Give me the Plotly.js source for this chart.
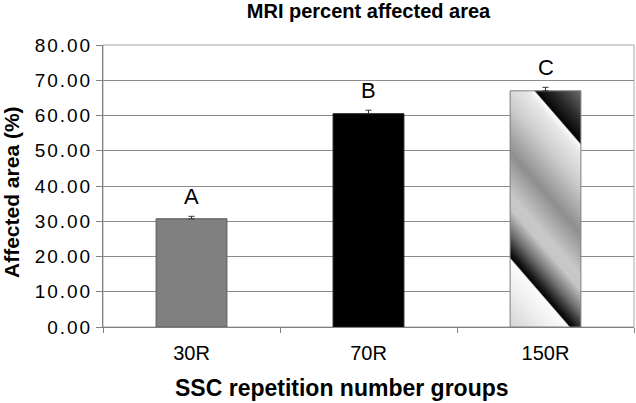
<!DOCTYPE html>
<html>
<head>
<meta charset="utf-8">
<script src="https://cdn.plot.ly/plotly-3.0.1.min.js"></script>
<style>
  html, body { margin: 0; padding: 0; background: #ffffff; }
  #chart { width: 636px; height: 403px; }
  .ytick text { letter-spacing: 2px; }
</style>
</head>
<body>
<div id="chart"></div>
<script>
// ---- data ----
var groups = ['30R', '70R', '150R'];
var affectedArea = [30.7, 60.5, 67.0];
var errorPlus = [0.7, 1.0, 1.0];
var groupLetters = ['A', 'B', 'C'];
var barColors = ['#808080', '#000000', '#d0d0d0'];
var barOutlines = ['#595959', '#1a1a1a', '#7f7f7f'];

var FONT = 'Arial, "Liberation Sans", sans-serif';

var trace = {
  type: 'bar',
  x: groups,
  y: affectedArea,
  width: 0.4,
  marker: { color: barColors, line: { color: barOutlines, width: 1 } },
  error_y: {
    type: 'data', symmetric: false, array: errorPlus,
    arrayminus: groups.map(function () { return 0; }),
    color: '#333333', thickness: 1, width: 3
  },
  hoverinfo: 'skip'
};

var annotations = groups.map(function (g, i) {
  return {
    x: g, y: affectedArea[i] + errorPlus[i], xref: 'x', yref: 'y',
    text: groupLetters[i], showarrow: false, yanchor: 'bottom', yshift: 5,
    font: { family: FONT, size: 22, color: '#000' }
  };
});
annotations.push({
  text: 'SSC repetition number groups', showarrow: false,
  xref: 'paper', yref: 'paper', x: (342 - 103) / 531, y: -(388 - 327) / 282,
  xanchor: 'center', yanchor: 'middle',
  font: { family: FONT, size: 23, color: '#000', weight: 'bold' }
});
annotations.push({
  text: 'Affected area (%)', showarrow: false, textangle: -90,
  xref: 'paper', yref: 'paper', x: -(103 - 12) / 531, y: (327 - 192) / 282,
  xanchor: 'center', yanchor: 'middle', borderpad: 0,
  font: { family: FONT, size: 21, color: '#000', weight: 'bold' }
});

var layout = {
  width: 636, height: 403,
  margin: { l: 103, r: 2, t: 45, b: 76, pad: 0 },
  paper_bgcolor: '#ffffff', plot_bgcolor: '#ffffff',
  showlegend: false,
  title: {
    text: 'MRI percent affected area',
    font: { family: FONT, size: 20, color: '#000', weight: 'bold' },
    x: 0.5, xref: 'paper', y: 1 - 11 / 403, yref: 'container', yanchor: 'middle'
  },
  xaxis: {
    type: 'category', range: [-0.5, 2.5],
    showline: true, linecolor: '#808080', linewidth: 1,
    ticks: 'outside', ticklen: 5, tickcolor: '#808080', tickson: 'boundaries',
    showgrid: false, zeroline: false,
    tickfont: { family: FONT, size: 20, color: '#000' },
    ticklabelstandoff: 8
  },
  yaxis: {
    range: [0, 80], dtick: 10, tick0: 0, tickformat: '.2f',
    showline: true, linecolor: '#808080', linewidth: 1,
    ticks: 'outside', ticklen: 6, tickcolor: '#808080',
    showgrid: true, gridcolor: '#8c8c8c', gridwidth: 1, zeroline: false,
    tickfont: { family: FONT, size: 19, color: '#000' }
  },
  shapes: [{
    type: 'rect', xref: 'paper', yref: 'paper', x0: 0, x1: 1, y0: 0, y1: 1,
    line: { color: '#a6a6a6', width: 1 }, layer: 'below'
  }],
  annotations: annotations
};

Plotly.newPlot('chart', [trace], layout, { displayModeBar: false, staticPlot: true }).then(function (gd) {
  var paths = gd.querySelectorAll('.barlayer .point path');
  if (paths.length < 3) return;
  var p = paths[2];
  var bb = p.getBBox();
  var svgNS = 'http://www.w3.org/2000/svg';
  var svg = gd.querySelector('svg.main-svg');
  var defs = svg.querySelector('defs') || svg.insertBefore(document.createElementNS(svgNS, 'defs'), svg.firstChild);
  var nx = 0.756, ny = -0.654;
  var x0 = bb.x, y0 = bb.y + bb.height;
  var x1 = bb.x + bb.width, y1 = bb.y;
  var span = (x1 - x0) * nx + (y1 - y0) * ny;
  var g = document.createElementNS(svgNS, 'linearGradient');
  g.setAttribute('id', 'cBarGrad');
  g.setAttribute('gradientUnits', 'userSpaceOnUse');
  g.setAttribute('x1', x0); g.setAttribute('y1', y0);
  g.setAttribute('x2', x0 + span * nx); g.setAttribute('y2', y0 + span * ny);
  var stops = [
    [0, '#d4d4d4'], [0.133, '#efefef'], [0.214, '#fbfbfb'], [0.2206, '#050505'],
    [0.238, '#151515'], [0.301, '#707070'], [0.373, '#c6c6c6'], [0.42, '#c8c8c8'],
    [0.55, '#8e8e8e'], [0.70, '#cdcdcd'], [0.80, '#e8e8e8'], [0.829, '#fbfbfb'],
    [0.8357, '#050505'], [0.901, '#2a2a2a'], [1, '#6a6a6a']
  ];
  stops.forEach(function (s) {
    var st = document.createElementNS(svgNS, 'stop');
    st.setAttribute('offset', s[0]);
    st.setAttribute('stop-color', s[1]);
    g.appendChild(st);
  });
  defs.appendChild(g);
  p.style.fill = 'url(#cBarGrad)';
});
</script>
</body>
</html>
